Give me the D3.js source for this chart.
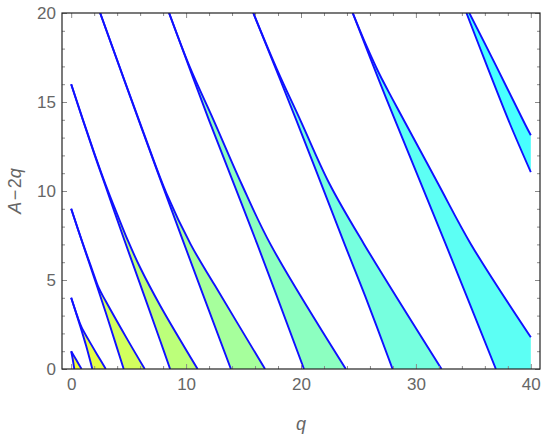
<!DOCTYPE html>
<html>
<head>
<meta charset="utf-8">
<script src="https://cdn.jsdelivr.net/npm/d3@7"></script>
<style>
  body { margin: 0; background: #fff; }
  svg { display: block; }
</style>
</head>
<body>
<div id="chart"></div>
<script>
// Tongue order r and its two boundary curves (q, A-2q)
const orders = [1, 2, 3, 4, 5, 6, 7, 8, 9];

const bCurves = [
    [[0, 1], [0.13, 0.56], [0.27, 0]],
    [[0, 4], [0.8, 2.38], [1.3, 1.3], [1.84, 0]],
    [[0, 9], [1, 7.05], [2, 5.13], [3, 3.19], [4, 1.16], [4.57, 0]],
    [[0, 16], [1, 14.03], [2, 12.1], [3, 10.25], [4.64, 7.22], [5.57, 5.54], [7.74, 1.6], [8.61, 0]],
    [[2.52, 20], [6.2, 13.4], [9.7, 7.25], [13.9, 0]],
    [[8.52, 20], [12.0, 13.97], [16.2, 7.0], [20.26, 0]],
    [[15.85, 20], [19.6, 13.97], [23.8, 7.0], [25.57, 4.12], [27.97, 0]],
    [[24.5, 20], [26.8, 16.2], [28.3, 13.8], [32.6, 7.0], [36.96, 0]],
    [[34.4, 20], [36.2, 17], [38.2, 13.75], [40, 11.06]]
];

const aCurves = [
    [[0, 1], [0.45, 0.5], [0.9, 0]],
    [[0, 4], [0.5, 3.03], [0.9, 2.35], [1.5, 1.65], [2.25, 0.82], [3.01, 0]],
    [[0, 9], [1, 7.07], [1.8, 5.62], [2.4, 4.55], [3, 3.82], [4.9, 1.65], [6.4, 0]],
    [[0, 16], [1, 14.04], [2, 12.15], [3, 10.35], [4, 8.7], [4.93, 7.22], [6, 5.7], [7.74, 3.57], [11, 0]],
    [[2.52, 20], [6.2, 13.45], [8.3, 9.85], [10.4, 7.0], [12.5, 4.7], [16.87, 0]],
    [[8.52, 20], [10.3, 17.0], [12.4, 13.97], [14.84, 10.38], [17.35, 7.0], [23.9, 0]],
    [[15.85, 20], [17.9, 16.85], [19.95, 13.97], [22.5, 10.38], [25.5, 7.0], [32.23, 0]],
    [[24.5, 20], [25.7, 18.15], [26.8, 16.6], [28, 15.12], [29.06, 13.85], [31.9, 10.45], [34.8, 7.0], [40, 1.78]],
    [[34.65, 20], [37.0, 17], [39.5, 13.75], [40, 13.13]]
];

const fillColors = ["#f4ff2e", "#e4ff46", "#d2ff5e", "#bcff7a", "#a6ff9c", "#8cffc0", "#76ffde", "#5cfff4", "#48ffff"];

const xTicks = [0, 10, 20, 30, 40];
const yTicks = [0, 5, 10, 15, 20];
const xMinorTicks = [2, 4, 6, 8, 12, 14, 16, 18, 22, 24, 26, 28, 32, 34, 36, 38];
const yMinorTicks = [1, 2, 3, 4, 6, 7, 8, 9, 11, 12, 13, 14, 16, 17, 18, 19];

const drawStabilityChart = (containerId) => {
    const width = 545;
    const height = 436;
    const frame = { left: 62, right: 540, top: 13, bottom: 369 };

    // Scales (x has a little padding on both sides like the original)
    const xScale = d3.scaleLinear().domain([-0.8, 40.8]).range([frame.left, frame.right]);
    const yScale = d3.scaleLinear().domain([0, 20]).range([frame.bottom, frame.top]);

    const svg = d3.select(containerId)
        .append("svg")
        .attr("width", width)
        .attr("height", height)
        .style("font-family", "'Liberation Sans', Arial, sans-serif");

    svg.append("clipPath")
        .attr("id", "plot-clip")
        .append("rect")
        .attr("x", frame.left)
        .attr("y", frame.top)
        .attr("width", frame.right - frame.left)
        .attr("height", frame.bottom - frame.top);

    const plot = svg.append("g").attr("clip-path", "url(#plot-clip)");

    const lineGenerator = d3.line()
        .x(d => xScale(d[0]))
        .y(d => yScale(d[1]))
        .curve(d3.curveCatmullRom.alpha(0.5));

    // Filled tongues between b_r and a_r
    orders.forEach((r, i) => {
        const a = aCurves[i];
        const b = bCurves[i];
        const aEnd = a[a.length - 1];
        const bEnd = b[b.length - 1];
        let d = lineGenerator(a);
        if (aEnd[0] !== bEnd[0] && aEnd[1] !== bEnd[1]) {
            d += "L" + xScale(Math.max(aEnd[0], bEnd[0])) + "," + yScale(Math.min(aEnd[1], bEnd[1]));
        }
        d += lineGenerator(b.slice().reverse()).replace(/^M/, "L") + "Z";
        plot.append("path")
            .attr("d", d)
            .attr("fill", fillColors[i])
            .attr("stroke", "none");
    });

    // Boundary curves
    orders.forEach((r, i) => {
        [bCurves[i], aCurves[i]].forEach(pts => {
            plot.append("path")
                .datum(pts)
                .attr("d", lineGenerator)
                .attr("fill", "none")
                .attr("stroke", "#1010ff")
                .attr("stroke-width", 1.9)
                .attr("stroke-linejoin", "round");
        });
    });

    // Axes: ticks point inward, labels gray
    const styleAxis = g => {
        g.select(".domain").remove();
        g.selectAll(".tick line").attr("stroke", "#8a8a8a");
        g.selectAll(".tick text").attr("fill", "#666").style("font-size", "17px");
    };

    svg.append("g")
        .attr("transform", `translate(0,${frame.bottom})`)
        .call(d3.axisBottom(xScale).tickValues(xTicks).tickSize(-5).tickPadding(9).tickFormat(d3.format("d")))
        .call(styleAxis);
    svg.append("g")
        .attr("transform", `translate(0,${frame.bottom})`)
        .call(d3.axisBottom(xScale).tickValues(xMinorTicks).tickSize(-3).tickFormat(""))
        .call(styleAxis);
    svg.append("g")
        .attr("transform", `translate(0,${frame.top})`)
        .call(d3.axisTop(xScale).tickValues(xTicks).tickSize(-5).tickFormat(""))
        .call(styleAxis);
    svg.append("g")
        .attr("transform", `translate(0,${frame.top})`)
        .call(d3.axisTop(xScale).tickValues(xMinorTicks).tickSize(-3).tickFormat(""))
        .call(styleAxis);

    svg.append("g")
        .attr("transform", `translate(${frame.left},0)`)
        .call(d3.axisLeft(yScale).tickValues(yTicks).tickSize(-5).tickPadding(6).tickFormat(d3.format("d")))
        .call(styleAxis);
    svg.append("g")
        .attr("transform", `translate(${frame.left},0)`)
        .call(d3.axisLeft(yScale).tickValues(yMinorTicks).tickSize(-3).tickFormat(""))
        .call(styleAxis);
    svg.append("g")
        .attr("transform", `translate(${frame.right},0)`)
        .call(d3.axisRight(yScale).tickValues(yTicks).tickSize(-5).tickFormat(""))
        .call(styleAxis);
    svg.append("g")
        .attr("transform", `translate(${frame.right},0)`)
        .call(d3.axisRight(yScale).tickValues(yMinorTicks).tickSize(-3).tickFormat(""))
        .call(styleAxis);

    // Frame
    svg.append("rect")
        .attr("x", frame.left)
        .attr("y", frame.top)
        .attr("width", frame.right - frame.left)
        .attr("height", frame.bottom - frame.top)
        .attr("fill", "none")
        .attr("stroke", "#222")
        .attr("stroke-width", 1.2);

    // Axis titles
    svg.append("text")
        .attr("x", xScale(20))
        .attr("y", 430)
        .attr("text-anchor", "middle")
        .attr("fill", "#666")
        .style("font-size", "18px")
        .style("font-style", "italic")
        .text("q");

    const yTitle = svg.append("text")
        .attr("transform", `translate(21,${yScale(10)}) rotate(-90)`)
        .attr("text-anchor", "middle")
        .attr("fill", "#666")
        .style("font-size", "18px");
    yTitle.append("tspan").style("font-style", "italic").text("A");
    yTitle.append("tspan").text("\u200a\u2212\u200a2");
    yTitle.append("tspan").style("font-style", "italic").text("q");
};

drawStabilityChart("#chart");
</script>
</body>
</html>
